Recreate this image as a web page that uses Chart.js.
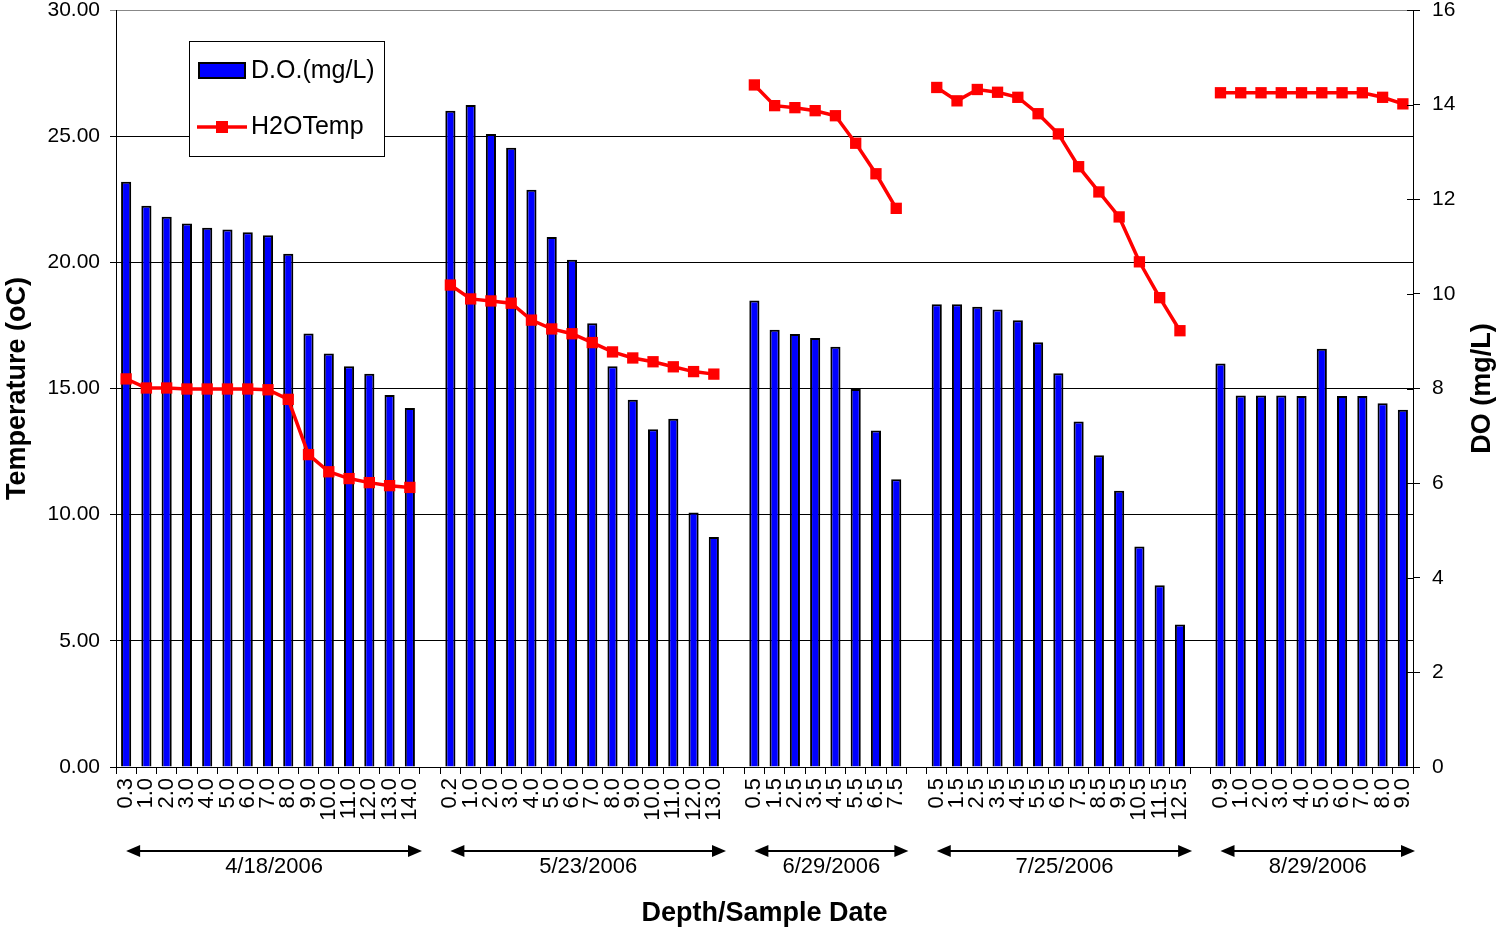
<!DOCTYPE html>
<html>
<head>
<meta charset="utf-8">
<title>Temperature and DO Depth Profiles</title>
<script src="https://cdn.jsdelivr.net/npm/chart.js@4.4.1/dist/chart.umd.min.js"></script>
<style>
  html, body { margin: 0; padding: 0; background: #fff; }
  #wrap { width: 1501px; height: 931px; }
</style>
</head>
<body>
<div id="wrap"><canvas id="chart" width="1501" height="931"></canvas></div>
<script>
const FONT = "'Liberation Sans', Arial, sans-serif";

const sampleDates = ['4/18/2006', '5/23/2006', '6/29/2006', '7/25/2006', '8/29/2006'];

// depth (m) of each reading, one list per sampling date
const depths = [
    ['0.3', '1.0', '2.0', '3.0', '4.0', '5.0', '6.0', '7.0', '8.0', '9.0', '10.0', '11.0', '12.0', '13.0', '14.0'],
    ['0.2', '1.0', '2.0', '3.0', '4.0', '5.0', '6.0', '7.0', '8.0', '9.0', '10.0', '11.0', '12.0', '13.0'],
    ['0.5', '1.5', '2.5', '3.5', '4.5', '5.5', '6.5', '7.5'],
    ['0.5', '1.5', '2.5', '3.5', '4.5', '5.5', '6.5', '7.5', '8.5', '9.5', '10.5', '11.5', '12.5'],
    ['0.9', '1.0', '2.0', '3.0', '4.0', '5.0', '6.0', '7.0', '8.0', '9.0']
];

// dissolved oxygen, mg/L
const doValues = [
    [12.37, 11.86, 11.63, 11.49, 11.40, 11.36, 11.30, 11.24, 10.85, 9.16, 8.74, 8.47, 8.31, 7.86, 7.59],
    [13.87, 13.99, 13.38, 13.09, 12.20, 11.20, 10.72, 9.38, 8.47, 7.76, 7.14, 7.36, 5.38, 4.86],
    [9.86, 9.24, 9.15, 9.07, 8.88, 7.99, 7.11, 6.08],
    [9.78, 9.78, 9.73, 9.67, 9.44, 8.98, 8.32, 7.30, 6.59, 5.84, 4.66, 3.84, 3.01],
    [8.53, 7.85, 7.85, 7.85, 7.84, 8.84, 7.84, 7.84, 7.69, 7.55]
];

// water temperature, deg C
const tempValues = [
    [15.38, 15.02, 15.02, 14.98, 14.98, 14.98, 14.98, 14.95, 14.57, 12.38, 11.70, 11.43, 11.27, 11.15, 11.08],
    [19.10, 18.55, 18.47, 18.38, 17.71, 17.36, 17.17, 16.82, 16.45, 16.21, 16.06, 15.86, 15.67, 15.57],
    [27.03, 26.21, 26.13, 26.01, 25.81, 24.72, 23.51, 22.14],
    [26.93, 26.40, 26.85, 26.74, 26.54, 25.89, 25.09, 23.79, 22.79, 21.80, 20.02, 18.60, 17.29],
    [26.72, 26.72, 26.72, 26.72, 26.72, 26.72, 26.72, 26.72, 26.54, 26.28]
];

const tempTicks = { min: 0, max: 30, step: 5 };
const doTicks = { min: 0, max: 16, step: 2 };

// flatten the groups, leaving one empty slot between sampling dates
const labels = [];
const doSeries = [];
const tempSeries = [];
depths.forEach((group, g) => {
    group.forEach((d, i) => {
        labels.push(d);
        doSeries.push(doValues[g][i]);
        tempSeries.push(tempValues[g][i]);
    });
    if (g < depths.length - 1) {
        labels.push('');
        doSeries.push(null);
        tempSeries.push(null);
    }
});

function drawArrow(ctx, x0, x1, y) {
    const head = 14, half = 6;
    ctx.beginPath();
    ctx.moveTo(x0 + head - 2, y);
    ctx.lineTo(x1 - head + 2, y);
    ctx.stroke();
    ctx.beginPath();
    ctx.moveTo(x0, y);
    ctx.lineTo(x0 + head, y - half);
    ctx.lineTo(x0 + head, y + half);
    ctx.closePath();
    ctx.fill();
    ctx.beginPath();
    ctx.moveTo(x1, y);
    ctx.lineTo(x1 - head, y - half);
    ctx.lineTo(x1 - head, y + half);
    ctx.closePath();
    ctx.fill();
}

// keep the plot area flush with the layout padding
function noEdgePadding(scale) {
    scale.paddingTop = 0;
    scale.paddingBottom = 0;
    scale.paddingLeft = 0;
    scale.paddingRight = 0;
}

const decorations = {
    id: 'decorations',
    afterDraw(chart) {
        const ctx = chart.ctx;
        const area = chart.chartArea;
        const xs = chart.scales.x;
        const y1 = chart.scales.y1;
        ctx.save();

        // right axis tick marks cross the axis line
        ctx.strokeStyle = '#000';
        ctx.lineWidth = 1;
        y1.ticks.forEach((t, i) => {
            const py = Math.round(y1.getPixelForTick(i)) + 0.5;
            ctx.beginPath();
            ctx.moveTo(area.right - 6, py);
            ctx.lineTo(area.right, py);
            ctx.stroke();
        });

        // axis titles
        ctx.fillStyle = '#000';
        ctx.font = 'bold 27px ' + FONT;
        ctx.textAlign = 'center';
        ctx.textBaseline = 'middle';
        const midY = (area.top + area.bottom) / 2;
        ctx.save();
        ctx.translate(18, midY);
        ctx.rotate(-Math.PI / 2);
        ctx.fillText('Temperature (oC)', 0, 0);
        ctx.restore();
        ctx.save();
        ctx.translate(1483, midY);
        ctx.rotate(-Math.PI / 2);
        ctx.fillText('DO (mg/L)', 0, 0);
        ctx.restore();
        ctx.fillText('Depth/Sample Date', (area.left + area.right) / 2, 914);

        // sampling date arrows under the depth labels
        const step = xs.getPixelForValue(1) - xs.getPixelForValue(0);
        ctx.lineWidth = 2;
        ctx.font = '22px ' + FONT;
        let start = 0;
        sampleDates.forEach((d, g) => {
            const n = depths[g].length;
            const x0 = xs.getPixelForValue(start);
            const x1 = xs.getPixelForValue(start + n - 1) + step * 0.6;
            drawArrow(ctx, x0, x1, 851);
            ctx.fillText(d, (x0 + x1) / 2, 867);
            start += n + 1;
        });

        // legend box
        ctx.lineWidth = 1;
        ctx.fillStyle = '#fff';
        ctx.fillRect(189, 41, 195, 115);
        ctx.strokeStyle = '#000';
        ctx.strokeRect(189.5, 41.5, 195, 115);
        ctx.fillStyle = '#0000ff';
        ctx.fillRect(199, 63, 46, 15);
        ctx.lineWidth = 2;
        ctx.strokeRect(199, 63, 46, 15);
        ctx.strokeStyle = '#ff0000';
        ctx.lineWidth = 3.5;
        ctx.beginPath();
        ctx.moveTo(197, 127);
        ctx.lineTo(247, 127);
        ctx.stroke();
        ctx.fillStyle = '#ff0000';
        ctx.fillRect(216, 121, 12, 12);
        ctx.fillStyle = '#000';
        ctx.font = '25px ' + FONT;
        ctx.textAlign = 'left';
        ctx.fillText('D.O.(mg/L)', 251, 71);
        ctx.fillText('H2OTemp', 251, 127);
        ctx.restore();
    }
};

new Chart(document.getElementById('chart'), {
    type: 'bar',
    data: {
        labels: labels,
        datasets: [
            {
                type: 'line',
                label: 'H2OTemp',
                data: tempSeries,
                yAxisID: 'y',
                borderColor: '#ff0000',
                backgroundColor: '#ff0000',
                borderWidth: 3.5,
                pointStyle: 'rect',
                pointRadius: 8,
                pointBorderWidth: 0,
                spanGaps: false,
                tension: 0,
                order: 1
            },
            {
                label: 'D.O.(mg/L)',
                data: doSeries,
                yAxisID: 'y1',
                backgroundColor: '#0000ff',
                borderColor: '#000',
                borderWidth: 2,
                barPercentage: 0.5,
                categoryPercentage: 1,
                order: 2
            }
        ]
    },
    options: {
        responsive: false,
        animation: false,
        devicePixelRatio: 1,
        layout: { padding: { top: 10, left: 0, right: 0, bottom: 0 } },
        plugins: {
            legend: { display: false },
            tooltip: { enabled: false }
        },
        scales: {
            x: {
                offset: true,
                grid: {
                    offset: true,
                    drawOnChartArea: false,
                    color: '#000',
                    tickLength: 7
                },
                border: { color: '#000', width: 1 },
                ticks: {
                    autoSkip: false,
                    maxRotation: 90,
                    minRotation: 90,
                    padding: 4,
                    color: '#000',
                    font: { family: FONT, size: 22 }
                },
                afterFit: scale => { scale.height = 164; noEdgePadding(scale); }
            },
            y: {
                position: 'left',
                min: tempTicks.min,
                max: tempTicks.max,
                grid: {
                    color: ctx => ctx.tick && ctx.tick.value === tempTicks.max ? '#888' : '#000',
                    lineWidth: 1,
                    tickLength: 6
                },
                border: { color: '#000', width: 1 },
                ticks: {
                    stepSize: tempTicks.step,
                    padding: 10,
                    color: '#000',
                    font: { family: FONT, size: 21 },
                    callback: v => v.toFixed(2)
                },
                afterFit: scale => { scale.width = 116; noEdgePadding(scale); }
            },
            y1: {
                position: 'right',
                min: doTicks.min,
                max: doTicks.max,
                grid: {
                    drawOnChartArea: false,
                    color: '#000',
                    tickLength: 7
                },
                border: { color: '#000', width: 1 },
                ticks: {
                    stepSize: doTicks.step,
                    padding: 12,
                    color: '#000',
                    font: { family: FONT, size: 21 }
                },
                afterFit: scale => { scale.width = 88; noEdgePadding(scale); }
            }
        }
    },
    plugins: [decorations]
});
</script>
</body>
</html>
